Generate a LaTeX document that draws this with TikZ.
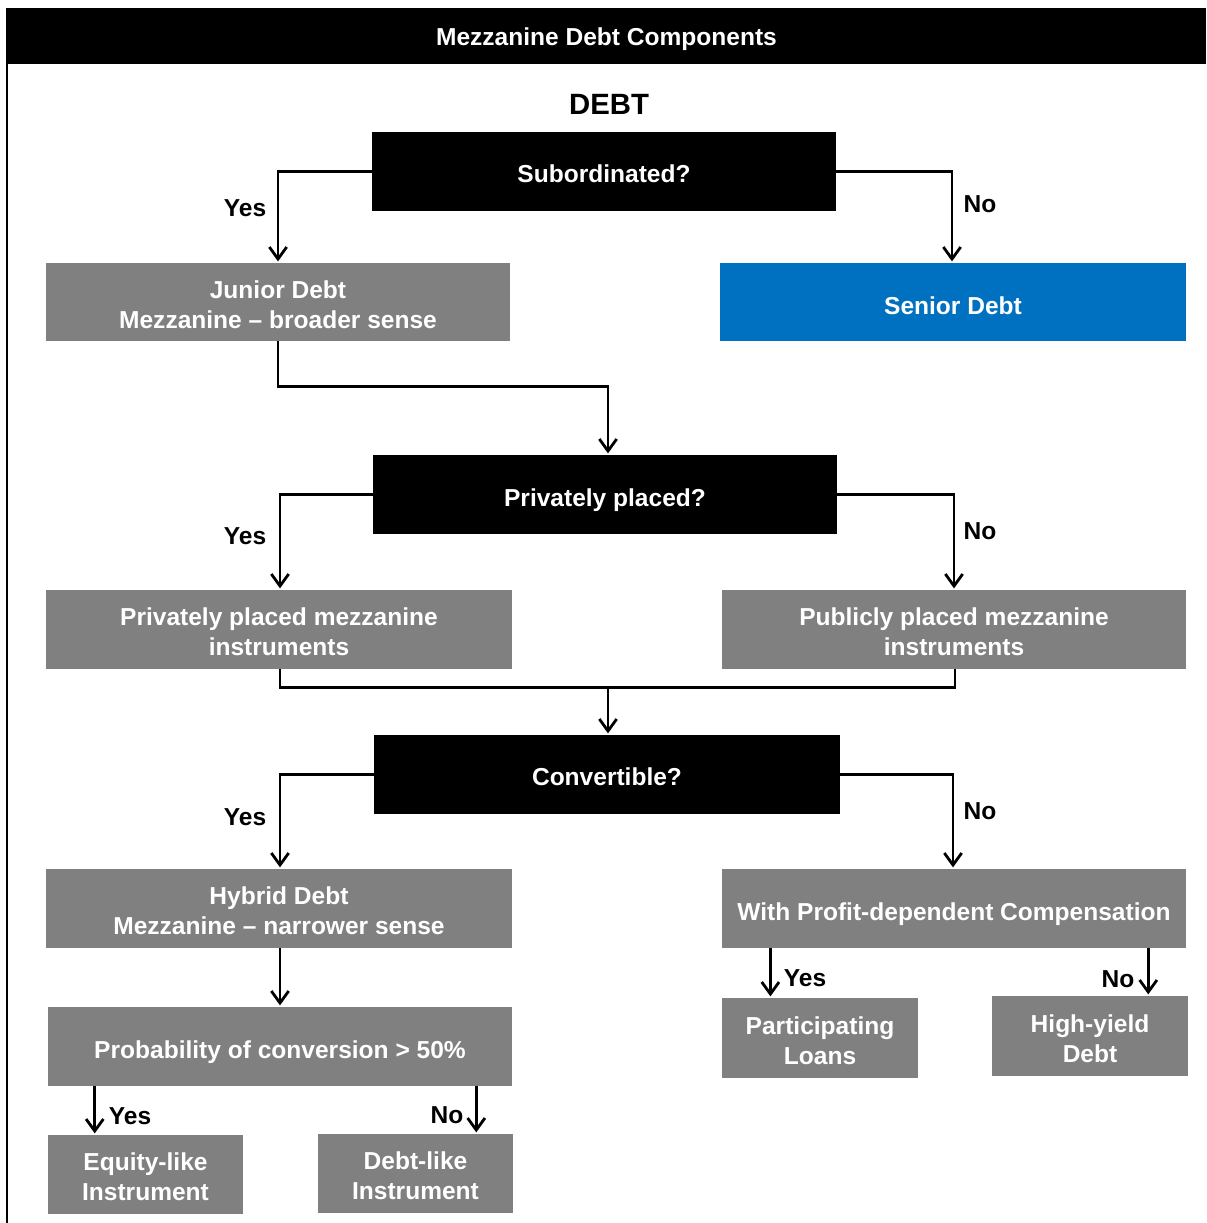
\documentclass[tikz,border=0pt]{standalone}
\usepackage{fontspec}
\setmainfont{Liberation Sans}
\usetikzlibrary{arrows.meta}
\definecolor{boxgray}{HTML}{808080}
\definecolor{boxblue}{HTML}{0070C0}
\begin{document}
\begin{tikzpicture}[x=0.75pt,y=-0.75pt,
  every node/.style={font=\fontsize{18.4}{22.5}\selectfont\bfseries, inner sep=0pt, align=center},
  qbox/.style={fill=black},
  gbox/.style={fill=boxgray},
  bbox/.style={fill=boxblue},
  oneline/.style={text=white, anchor=base},
  twoline/.style={text=white},
  lab/.style={text=black},
  conn/.style={line width=2.1pt},
  arr/.style={conn, -{Straight Barb[length=9pt,width=13pt,line width=2.1pt]}}]
\useasboundingbox (0,0) rectangle (1206,1223);
\fill[white] (0,0) rectangle (1206,1223);

% title bar and frame edge
\node[qbox, minimum width=1199*0.75pt, minimum height=56*0.75pt] (hdr) at (606.5,36) {};
\node[oneline] (hdr-t) at ([yshift=-7.3pt]hdr.center) {Mezzanine Debt Components};
\draw[line width=1.4pt] (7,8) -- (7,1223);

\node[font=\fontsize{22}{26}\selectfont\bfseries] (debt) at (609,104) {DEBT};

% decision boxes
\node[qbox, minimum width=464*0.75pt, minimum height=79*0.75pt] (sub) at (604,171.5) {};
\node[oneline] (sub-t) at ([yshift=-8.6pt]sub.center) {Subordinated?};
\node[qbox, minimum width=464*0.75pt, minimum height=79*0.75pt] (priv) at (605,494.5) {};
\node[oneline] (priv-t) at ([yshift=-8.8pt]priv.center) {Privately placed?};
\node[qbox, minimum width=466*0.75pt, minimum height=79*0.75pt] (conv) at (607,774.5) {};
\node[oneline] (conv-t) at ([yshift=-8.6pt]conv.center) {Convertible?};

% outcome boxes
\node[gbox, minimum width=464*0.75pt, minimum height=78*0.75pt] (jun) at (278,302) {};
\node[twoline] (jun-t) at ([yshift=-2pt]jun.center) {Junior Debt\\Mezzanine -- broader sense};
\node[bbox, minimum width=466*0.75pt, minimum height=78*0.75pt] (sen) at (953,302) {};
\node[oneline] (sen-t) at ([yshift=-9pt]sen.center) {Senior Debt};
\node[gbox, minimum width=466*0.75pt, minimum height=79*0.75pt] (ppm) at (279,629.5) {};
\node[twoline] (ppm-t) at ([yshift=-2pt]ppm.center) {Privately placed mezzanine\\instruments};
\node[gbox, minimum width=464*0.75pt, minimum height=79*0.75pt] (pub) at (954,629.5) {};
\node[twoline] (pub-t) at ([yshift=-2pt]pub.center) {Publicly placed mezzanine\\instruments};
\node[gbox, minimum width=466*0.75pt, minimum height=79*0.75pt] (hyb) at (279,908.5) {};
\node[twoline] (hyb-t) at ([yshift=-2pt]hyb.center) {Hybrid Debt\\Mezzanine -- narrower sense};
\node[gbox, minimum width=464*0.75pt, minimum height=79*0.75pt] (prof) at (954,908.5) {};
\node[oneline] (prof-t) at ([yshift=-9pt]prof.center) {With Profit-dependent Compensation};
\node[gbox, minimum width=464*0.75pt, minimum height=79*0.75pt] (prob) at (280,1046.5) {};
\node[oneline] (prob-t) at ([yshift=-9pt]prob.center) {Probability of conversion > 50\%};
\node[gbox, minimum width=195*0.75pt, minimum height=79*0.75pt] (eq) at (145.5,1174.5) {};
\node[twoline] (eq-t) at ([yshift=-2pt]eq.center) {Equity-like\\Instrument};
\node[gbox, minimum width=195*0.75pt, minimum height=79*0.75pt] (dl) at (415.5,1173.5) {};
\node[twoline] (dl-t) at ([yshift=-2pt]dl.center) {Debt-like\\Instrument};
\node[gbox, minimum width=196*0.75pt, minimum height=80*0.75pt] (part) at (820,1038) {};
\node[twoline] (part-t) at ([yshift=-2pt]part.center) {Participating\\Loans};
\node[gbox, minimum width=196*0.75pt, minimum height=80*0.75pt] (hy) at (1090,1036) {};
\node[twoline] (hy-t) at ([yshift=-2pt]hy.center) {High-yield\\Debt};

% branch labels
\node[lab] (y1) at (245,208) {Yes};
\node[lab] (n1) at (980,204) {No};
\node[lab] (y2) at (245,536) {Yes};
\node[lab] (n2) at (980,531) {No};
\node[lab] (y3) at (245,817) {Yes};
\node[lab] (n3) at (980,811) {No};
\node[lab] (y4) at (130,1116) {Yes};
\node[lab] (n4) at (447,1115) {No};
\node[lab] (y5) at (805,978) {Yes};
\node[lab] (n5) at (1118,979) {No};

% connectors
\draw[arr] (sub.west) -| ([yshift=1pt]jun.north);
\draw[arr] (sub.east) -| ([xshift=-0.75pt,yshift=1pt]sen.north);
\draw[arr] (jun.south) -- ++(0,45) -| ([xshift=2.25pt,yshift=1pt]priv.north);
\draw[arr] (priv.west) -| ([xshift=0.75pt,yshift=1pt]ppm.north);
\draw[arr] (priv.east) -| ([yshift=1pt]pub.north);
\draw[conn] ([xshift=0.75pt]ppm.south) -- ++(0,18) coordinate (mj) -| ([xshift=0.75pt]pub.south);
\draw[arr] ([xshift=0.75pt]conv.north |- mj) -- ([xshift=0.75pt,yshift=1pt]conv.north);
\draw[arr] (conv.west) -| ([xshift=0.75pt,yshift=1pt]hyb.north);
\draw[arr] (conv.east) -| ([xshift=-0.75pt,yshift=1pt]prof.north);
\draw[arr] ([xshift=0.75pt]hyb.south) -- ([xshift=0.75pt,yshift=1pt]hyb.south |- prob.north);
\draw[arr] ([xshift=35.25pt]prob.south west) -- ([xshift=35.25pt,yshift=1pt]eq.north west);
\draw[arr] ([xshift=-27pt]prob.south east) -- ([xshift=-27.75pt,yshift=1pt]dl.north east);
\draw[arr] ([xshift=36.5pt]prof.south west) -- ([xshift=36.5pt,yshift=1pt]part.north west);
\draw[arr] ([xshift=-30pt]hy.north east |- prof.south) -- ([xshift=-30pt,yshift=1pt]hy.north east);
\end{tikzpicture}
\end{document}
